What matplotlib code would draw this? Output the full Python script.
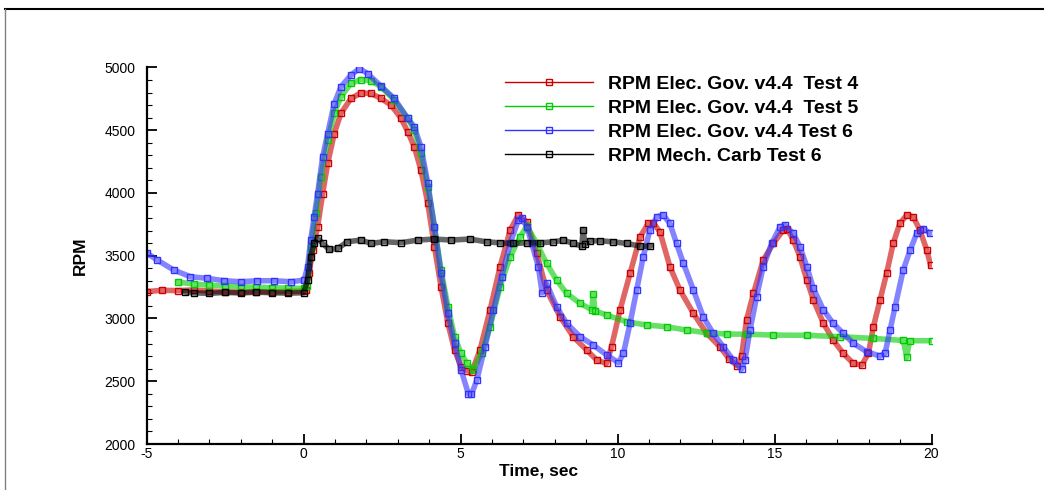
import numpy as np
import matplotlib
matplotlib.use('Agg')
import matplotlib.pyplot as plt
from matplotlib.lines import Line2D
from matplotlib.ticker import MultipleLocator

plt.rcParams['font.family'] = ['Liberation Sans', 'DejaVu Sans']
plt.rcParams['axes.unicode_minus'] = False

# Test 4 (red)
t4 = [-5.0, -4.5, -4.0, -3.5, -3.0, -2.5, -2.0, -1.5, -1.0, -0.5, 0.0, 0.07, 0.18, 0.29,
      0.45, 0.61, 0.77, 0.98, 1.19, 1.51, 1.83, 2.15, 2.47, 2.79, 3.11, 3.32, 3.53, 3.74,
      3.96, 4.17, 4.38, 4.60, 4.81, 5.02, 5.20, 5.36, 5.62, 5.94, 6.26, 6.58, 6.84, 7.11,
      7.43, 7.74, 8.17, 8.59, 9.02, 9.34, 9.65, 9.81, 10.08, 10.40, 10.72, 10.98, 11.14,
      11.35, 11.67, 11.99, 12.42, 12.84, 13.26, 13.55, 13.80, 13.95, 14.11, 14.33, 14.64,
      14.96, 15.28, 15.40, 15.60, 15.81, 16.03, 16.24, 16.56, 16.87, 17.19, 17.51, 17.78,
      17.99, 18.15, 18.36, 18.57, 18.78, 18.99, 19.21, 19.42, 19.63, 19.85, 19.97]
rpm4 = [3214, 3225, 3222, 3228, 3218, 3212, 3210, 3214, 3212, 3215, 3218, 3227, 3360, 3545,
        3731, 3996, 4236, 4474, 4634, 4753, 4798, 4793, 4753, 4700, 4594, 4488, 4368, 4182,
        3917, 3572, 3253, 2961, 2749, 2616, 2585, 2576, 2748, 3067, 3412, 3704, 3824, 3770,
        3518, 3226, 3014, 2855, 2748, 2669, 2642, 2775, 3067, 3359, 3651, 3757, 3762,
        3691, 3412, 3226, 3040, 2881, 2775, 2680, 2625, 2700, 2990, 3200, 3465,
        3598, 3704, 3717, 3624, 3492, 3306, 3147, 2961, 2828, 2722, 2642, 2629,
        2722, 2934, 3147, 3359, 3598, 3757, 3824, 3810, 3704, 3545, 3425]

# Test 5 (green)
t5 = [-4.0, -3.5, -3.0, -2.5, -2.0, -1.5, -1.0, -0.5, 0.0, 0.10, 0.23, 0.39, 0.55, 0.77,
      0.98, 1.19, 1.51, 1.83, 2.15, 2.47, 2.89, 3.32, 3.53, 3.74, 3.96, 4.17, 4.38, 4.60,
      4.81, 5.02, 5.20, 5.41, 5.67, 5.94, 6.26, 6.58, 6.90, 7.11, 7.43, 7.74, 8.06, 8.38,
      8.81, 9.18, 9.23, 9.28, 9.66, 10.29, 10.93, 11.57, 12.20, 12.84, 13.48, 14.11, 14.96,
      16.03, 17.09, 18.15, 19.10, 19.21, 19.30, 20.0]
rpm5 = [3290, 3275, 3265, 3258, 3252, 3250, 3246, 3242, 3240, 3260, 3572, 3837, 4129, 4421,
        4634, 4766, 4873, 4904, 4894, 4846, 4740, 4594, 4501, 4315, 4049, 3731, 3386, 3094,
        2855, 2722, 2642, 2590, 2722, 2934, 3253, 3492, 3651, 3736, 3598, 3439, 3306, 3200,
        3120, 3070, 3194, 3062, 3027, 2974, 2948, 2934, 2908, 2886, 2876, 2875, 2868,
        2866, 2855, 2841, 2825, 2690, 2823, 2823]

# Test 6 (blue)
t6 = [-5.0, -4.66, -4.13, -3.6, -3.06, -2.53, -2.0, -1.47, -0.94, -0.4, 0.02, 0.13, 0.23,
      0.34, 0.45, 0.61, 0.77, 0.98, 1.19, 1.51, 1.78, 2.04, 2.47, 2.89, 3.32, 3.53, 3.74,
      3.96, 4.17, 4.38, 4.60, 4.81, 5.02, 5.25, 5.35, 5.52, 5.78, 6.05, 6.31, 6.58, 6.84,
      6.95, 7.11, 7.27, 7.48, 7.60, 7.74, 8.06, 8.38, 8.81, 9.23, 9.66, 10.03, 10.19,
      10.40, 10.61, 10.82, 11.03, 11.25, 11.46, 11.67, 11.88, 12.10, 12.42, 12.73, 13.05,
      13.37, 13.69, 13.95, 14.06, 14.22, 14.43, 14.64, 14.91, 15.18, 15.33, 15.60, 15.81,
      16.03, 16.24, 16.56, 16.87, 17.19, 17.51, 17.94, 18.36, 18.52, 18.68, 18.84, 19.10,
      19.32, 19.53, 19.74, 19.95]
rpm6 = [3524, 3466, 3386, 3333, 3320, 3301, 3293, 3301, 3301, 3293, 3306, 3413, 3625,
        3811, 3996, 4288, 4474, 4713, 4846, 4939, 4992, 4952, 4851, 4753, 4594, 4527, 4368,
        4076, 3731, 3360, 3041, 2802, 2590, 2400, 2395, 2510, 2775, 3067, 3332, 3598, 3784,
        3797, 3731, 3598, 3412, 3205, 3279, 3094, 2961, 2855, 2788, 2709, 2648, 2722,
        2961, 3226, 3492, 3704, 3810, 3824, 3757, 3598, 3439, 3226, 3014, 2881,
        2775, 2669, 2595, 2669, 2908, 3173, 3412, 3598, 3731, 3744, 3678, 3571,
        3412, 3240, 3067, 2961, 2881, 2802, 2735, 2701, 2722, 2908, 3094, 3386,
        3545, 3678, 3717, 3678]

# Mech. carb test 6 (black)
tc = [-3.76, -3.5, -3.0, -2.5, -2.0, -1.5, -1.0, -0.5, 0.0, 0.13, 0.23, 0.34, 0.45, 0.61,
      0.82, 1.09, 1.40, 1.83, 2.15, 2.57, 3.11, 3.64, 4.17, 4.70, 5.29, 5.83, 6.26, 6.68,
      7.11, 7.53, 7.96, 8.28, 8.59, 8.86, 8.91, 8.96, 9.12, 9.44, 9.87, 10.29, 10.72, 11.05]
rpmc = [3210, 3205, 3200, 3208, 3203, 3210, 3205, 3202, 3205, 3306, 3492, 3598, 3638, 3598,
        3550, 3558, 3612, 3625, 3598, 3612, 3604, 3625, 3633, 3625, 3633, 3611, 3603, 3598,
        3603, 3603, 3611, 3624, 3598, 3577, 3709, 3590, 3619, 3619, 3611, 3598, 3577, 3577]

series = [
    (t4, rpm4, '#cc0000', 'RPM Elec. Gov. v4.4  Test 4'),
    (t5, rpm5, '#00cc00', 'RPM Elec. Gov. v4.4  Test 5'),
    (t6, rpm6, '#3333ff', 'RPM Elec. Gov. v4.4 Test 6'),
    (tc, rpmc, '#000000', 'RPM Mech. Carb Test 6'),
]

fig = plt.figure(figsize=(10.44, 4.9), dpi=100)
ax = fig.add_axes([146.5 / 1044, 1 - 444 / 490, (931.5 - 146.5) / 1044, (444 - 67.5) / 490])

handles = []
for t, r, c, lab in series:
    ax.plot(t, r, '-', color=c, lw=4, alpha=0.6, solid_capstyle='round')
    ax.plot(t, r, 's', color=c, ms=4, mfc='none', mew=1.0)
    handles.append(Line2D([0], [0], color=c, lw=1, marker='s', ms=4, mfc='none', mew=1))

ax.set_xlim(-5, 20)
ax.set_ylim(2000, 5000)
ax.xaxis.set_major_locator(MultipleLocator(5))
ax.xaxis.set_minor_locator(MultipleLocator(1))
ax.yaxis.set_major_locator(MultipleLocator(500))
ax.yaxis.set_minor_locator(MultipleLocator(100))
ax.tick_params(which='both', direction='in', top=False, right=False, labelsize=10)
ax.tick_params(axis='x', which='major', length=7, width=1.3, pad=2)
ax.tick_params(axis='y', which='major', length=7, width=1.3, pad=8)
ax.tick_params(which='minor', length=3.5, width=0.8)
for s in ['top', 'right']:
    ax.spines[s].set_visible(False)
for s in ['left', 'bottom']:
    ax.spines[s].set_linewidth(1.6)

ax.set_xlabel('Time, sec', fontsize=12.5, fontweight='bold', labelpad=2)
ax.set_ylabel('RPM', fontsize=12.5, fontweight='bold', labelpad=12)

fig.legend(handles, [s[3] for s in series], loc='upper left',
           bbox_to_anchor=(505 / 1044, 1 - 75 / 490), frameon=False,
           prop={'weight': 'bold', 'size': 14}, numpoints=1, handlelength=4.5,
           handletextpad=0.8, labelspacing=0.33, borderpad=0, borderaxespad=0)

# page frame
fig.add_artist(Line2D([5 / 1044, 1], [1 - 9.5 / 490] * 2, color='black', lw=1.5))
fig.add_artist(Line2D([5 / 1044] * 2, [0, 1 - 9.5 / 490], color='gray', lw=1))

fig.savefig('out.png', dpi=100)
